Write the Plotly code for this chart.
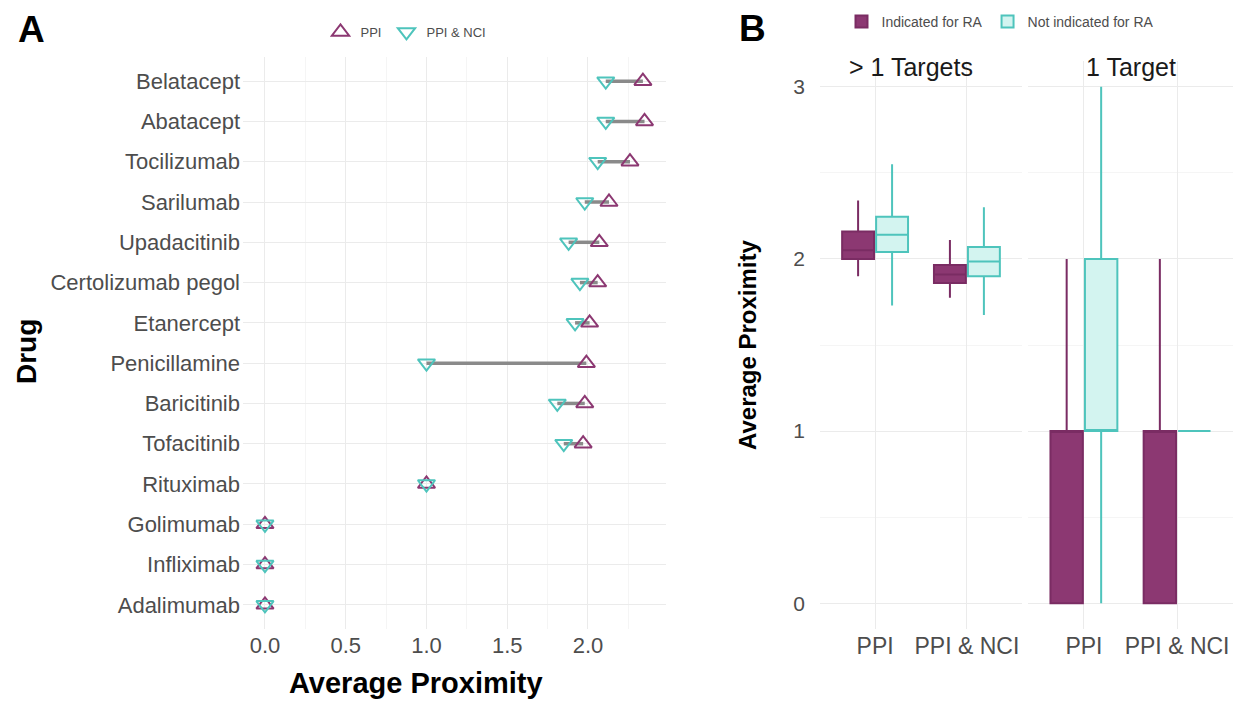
import plotly.graph_objects as go

W, H = 1238, 702

# ---------- Panel A data ----------
drugs = ["Belatacept", "Abatacept", "Tocilizumab", "Sarilumab", "Upadacitinib",
         "Certolizumab pegol", "Etanercept", "Penicillamine", "Baricitinib",
         "Tofacitinib", "Rituximab", "Golimumab", "Infliximab", "Adalimumab"]
ppi = [2.34, 2.35, 2.26, 2.13, 2.07, 2.06, 2.01, 1.99, 1.98, 1.97, 1.0, 0.0, 0.0, 0.0]
ppi_nci = [2.11, 2.11, 2.06, 1.98, 1.88, 1.95, 1.92, 1.0, 1.81, 1.85, 1.0, 0.0, 0.0, 0.0]

# ---------- Panel B data (box summary stats) ----------
methods = ["PPI", "PPI & NCI"]
facets = ["> 1 Targets", "1 Target"]
# indicated for RA, per facet, per method
ind_q1 = [[2.00, 1.86], [0.0, 0.0]]
ind_med = [[2.05, 1.91], [1.0, 1.0]]
ind_q3 = [[2.16, 1.965], [1.0, 1.0]]
ind_lo = [[1.90, 1.775], [0.0, 0.0]]
ind_hi = [[2.34, 2.11], [2.0, 2.0]]
# not indicated for RA
not_q1 = [[2.04, 1.90], [1.0, 1.0]]
not_med = [[2.14, 1.985], [1.0, 1.0]]
not_q3 = [[2.245, 2.07], [2.0, 1.0]]
not_lo = [[1.73, 1.675], [0.0, 1.0]]
not_hi = [[2.55, 2.30], [3.0, 1.0]]

PURPLE = "#8C3872"
PURPLE_LINE = "#7A2C63"
TEAL = "#4EC4BC"
TEAL_FILL = "#D3F4F0"
GRID = "#EBEBEB"
GRID_MINOR = "#F5F5F5"
TICK = "#4D4D4D"
FONT = "Liberation Sans, Arial, Helvetica, sans-serif"

def px_x(p):
    return p / W

def px_y(p):
    return 1 - p / H

fig = go.Figure()

# Segments
seg_x, seg_y = [], []
for d, a, b in zip(drugs, ppi_nci, ppi):
    seg_x += [a, b, None]
    seg_y += [d, d, None]
fig.add_trace(go.Scatter(x=seg_x, y=seg_y, mode="lines",
                         line=dict(color="#8A8A8A", width=3.5),
                         showlegend=False, hoverinfo="skip",
                         xaxis="x", yaxis="y"))
fig.add_trace(go.Scatter(x=ppi, y=drugs, mode="markers", name="PPI",
                         marker=dict(symbol="triangle-up-open", size=15,
                                     color=PURPLE, line=dict(width=2, color=PURPLE)),
                         xaxis="x", yaxis="y", legend="legend"))
fig.add_trace(go.Scatter(x=ppi_nci, y=drugs, mode="markers", name="PPI & NCI",
                         marker=dict(symbol="triangle-down-open", size=15,
                                     color=TEAL, line=dict(width=2, color=TEAL)),
                         xaxis="x", yaxis="y", legend="legend"))

# Panel B boxes
xaxes_b = ["x2", "x3"]
for fi, xa in enumerate(xaxes_b):
    fig.add_trace(go.Box(x=methods, q1=ind_q1[fi], median=ind_med[fi], q3=ind_q3[fi],
                         lowerfence=ind_lo[fi], upperfence=ind_hi[fi],
                         name="Indicated for RA", legendgroup="ind",
                         showlegend=(fi == 0), legend="legend2",
                         fillcolor=PURPLE, line=dict(color=PURPLE_LINE, width=2),
                         whiskerwidth=0, boxpoints=False,
                         xaxis=xa, yaxis="y2", offsetgroup="ind"))
    fig.add_trace(go.Box(x=methods, q1=not_q1[fi], median=not_med[fi], q3=not_q3[fi],
                         lowerfence=not_lo[fi], upperfence=not_hi[fi],
                         name="Not indicated for RA", legendgroup="not",
                         showlegend=(fi == 0), legend="legend2",
                         fillcolor=TEAL_FILL, line=dict(color=TEAL, width=2),
                         whiskerwidth=0, boxpoints=False,
                         xaxis=xa, yaxis="y2", offsetgroup="not"))

# Panel geometry (pixels)
a_left, a_right, a_top, a_bot = 243, 666, 57, 629
b1_left, b1_right = 820, 1022
b2_left, b2_right = 1028, 1233
b_top, b_bot = 61, 629

def axis_common(size):
    return dict(showline=False, zeroline=False, ticks="",
                tickfont=dict(family=FONT, size=size, color=TICK))

fig.update_layout(
    width=W, height=H,
    margin=dict(l=0, r=0, t=0, b=0),
    paper_bgcolor="white", plot_bgcolor="white",
    font=dict(family=FONT, color="#1A1A1A"),
    boxmode="group", boxgap=0.26, boxgroupgap=0.06,
    xaxis=dict(domain=[px_x(a_left), px_x(a_right)], anchor="y",
               range=[-0.136, 2.483], tickvals=[0, 0.5, 1.0, 1.5, 2.0],
               ticktext=["0.0", "0.5", "1.0", "1.5", "2.0"],
               showgrid=True, gridcolor=GRID, gridwidth=1,
               minor=dict(tick0=0.25, dtick=0.5, showgrid=True, gridcolor=GRID_MINOR),
               ticklabelstandoff=1, **axis_common(22)),
    yaxis=dict(domain=[px_y(a_bot), px_y(a_top)], anchor="x",
               type="category", categoryorder="array", categoryarray=drugs,
               range=[len(drugs) - 0.4, -0.6],
               showgrid=True, gridcolor=GRID, gridwidth=1,
               ticklabelstandoff=2, **axis_common(22)),
    xaxis2=dict(domain=[px_x(b1_left), px_x(b1_right)], anchor="y2",
                type="category", range=[-0.6, 1.6],
                showgrid=True, gridcolor=GRID, ticklabelstandoff=1, **axis_common(23)),
    xaxis3=dict(domain=[px_x(b2_left), px_x(b2_right)], anchor="y2",
                type="category", range=[-0.6, 1.6],
                showgrid=True, gridcolor=GRID, ticklabelstandoff=1, **axis_common(23)),
    yaxis2=dict(domain=[px_y(b_bot), px_y(b_top)], anchor="x2",
                range=[-0.15, 3.15], tickvals=[0, 1, 2, 3],
                showgrid=True, gridcolor=GRID,
                minor=dict(tick0=0.5, dtick=1, showgrid=True, gridcolor=GRID_MINOR),
                ticklabelstandoff=14, **axis_common(21)),
    legend=dict(orientation="h", x=px_x(406), y=px_y(32), xanchor="center",
                yanchor="middle", font=dict(family=FONT, size=13, color=TICK),
                bgcolor="rgba(0,0,0,0)", itemwidth=30),
    legend2=dict(orientation="h", x=px_x(1000), y=px_y(22), xanchor="center",
                 yanchor="middle", font=dict(family=FONT, size=14, color=TICK),
                 bgcolor="rgba(0,0,0,0)", itemwidth=30),
)

ann = [
    dict(text="<b>A</b>", x=px_x(31), y=px_y(29), font=dict(size=37, color="black")),
    dict(text="<b>B</b>", x=px_x(753), y=px_y(28), font=dict(size=37, color="black")),
    dict(text="<b>Average Proximity</b>", x=px_x(416), y=px_y(683),
         font=dict(size=29, color="black")),
    dict(text="<b>Drug</b>", x=px_x(26), y=px_y(352), textangle=-90,
         font=dict(size=28, color="black")),
    dict(text="<b>Average Proximity</b>", x=px_x(747), y=px_y(345), textangle=-90,
         font=dict(size=24, color="black")),
    dict(text="> 1 Targets", x=px_x(911), y=px_y(67), font=dict(size=25, color="#1A1A1A")),
    dict(text="1 Target", x=px_x(1131), y=px_y(67), font=dict(size=25, color="#1A1A1A")),
]
for a in ann:
    a.update(xref="paper", yref="paper", showarrow=False,
             xanchor="center", yanchor="middle")
    a["font"]["family"] = FONT
fig.update_layout(annotations=ann)

fig.write_html("out.html")
